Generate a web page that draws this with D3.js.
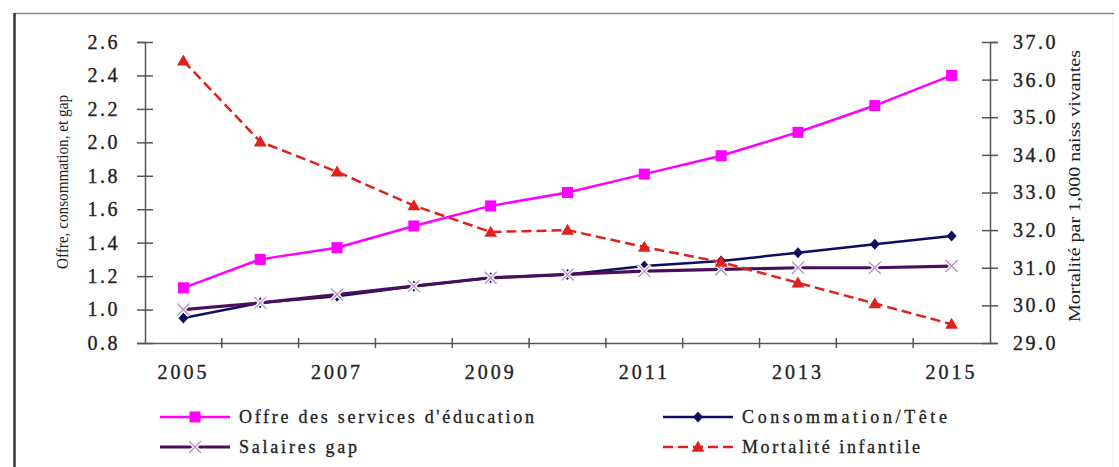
<!DOCTYPE html>
<html>
<head>
<meta charset="utf-8">
<script src="https://cdn.jsdelivr.net/npm/d3@7"></script>
<style>
  html, body { margin: 0; padding: 0; background: #fff; }
  svg { display: block; }
  text { font-family: "Liberation Serif", "Times New Roman", serif; fill: #222; }
</style>
</head>
<body>
<svg id="chart" width="1119" height="467"></svg>
<script>
// Years on the horizontal axis
const years = [2005, 2006, 2007, 2008, 2009, 2010, 2011, 2012, 2013, 2014, 2015];
const yearLabels = [2005, 2007, 2009, 2011, 2013, 2015];

// Left-axis series (index values)
const offreEducation = [1.13, 1.30, 1.37, 1.50, 1.62, 1.70, 1.81, 1.92, 2.06, 2.22, 2.40];
const consommationTete = [0.95, 1.04, 1.08, 1.14, 1.19, 1.21, 1.26, 1.29, 1.34, 1.39, 1.44];
const salairesGap = [1.00, 1.04, 1.09, 1.14, 1.19, 1.21, 1.23, 1.24, 1.25, 1.25, 1.26];

// Right-axis series (deaths per 1,000 live births)
const mortaliteInfantile = [36.5, 34.35, 33.55, 32.65, 31.95, 32.0, 31.55, 31.15, 30.6, 30.05, 29.5];

const leftTicks = [0.8, 1.0, 1.2, 1.4, 1.6, 1.8, 2.0, 2.2, 2.4, 2.6];
const rightTicks = [29, 30, 31, 32, 33, 34, 35, 36, 37];

const svg = d3.select("#chart");

// Outer frame (top and left edges)
svg.append("line").attr("x1", 14).attr("x2", 1114).attr("y1", 13.5).attr("y2", 13.5)
  .attr("stroke", "#888").attr("stroke-width", 1.5);
svg.append("line").attr("x1", 14.5).attr("x2", 14.5).attr("y1", 13).attr("y2", 467)
  .attr("stroke", "#333").attr("stroke-width", 2.5);
svg.append("line").attr("x1", 1112.5).attr("x2", 1112.5).attr("y1", 14).attr("y2", 467)
  .attr("stroke", "#eee").attr("stroke-width", 1);

const plot = { left: 145, right: 990, top: 42, bottom: 343 };

const x = d3.scaleBand().domain(years).range([plot.left, plot.right]).padding(0);
const xEdge = d3.scaleLinear().domain([0, years.length]).range([plot.left, plot.right]);
const cx = d => x(d) + x.bandwidth() / 2;

const yL = d3.scaleLinear().domain([0.8, 2.6]).range([plot.bottom, plot.top]);
const yR = d3.scaleLinear().domain([29, 37]).range([plot.bottom, plot.top]);

const axisColor = "#555";

// Left axis
const leftAxis = svg.append("g").attr("transform", `translate(${plot.left},0)`)
  .call(d3.axisLeft(yL).tickValues(leftTicks).tickSize(8).tickPadding(17).tickFormat(d3.format(".1f")));
leftAxis.selectAll(".tick line").attr("x2", -8).attr("x1", 8);
leftAxis.selectAll(".tick text").attr("x", -25);

// Right axis
const rightAxis = svg.append("g").attr("transform", `translate(${plot.right},0)`)
  .call(d3.axisRight(yR).tickValues(rightTicks).tickSize(8).tickFormat(d3.format(".1f")));
rightAxis.selectAll(".tick line").attr("x1", -8).attr("x2", 8);
rightAxis.selectAll(".tick text").attr("x", 23);

// Bottom axis: labels centred in every other year, ticks at year boundaries
const bottomAxis = svg.append("g").attr("transform", `translate(0,${plot.bottom})`)
  .call(d3.axisBottom(x).tickValues(yearLabels).tickSize(0).tickPadding(22));
bottomAxis.selectAll(".tick text").attr("dy", "0.71em");
svg.append("g").selectAll("line")
  .data(d3.range(1, years.length))
  .join("line")
  .attr("x1", i => xEdge(i)).attr("x2", i => xEdge(i))
  .attr("y1", plot.bottom - 5).attr("y2", plot.bottom + 5)
  .attr("stroke", axisColor).attr("stroke-width", 1.5);

[leftAxis, rightAxis, bottomAxis].forEach(a => {
  a.selectAll(".domain").attr("stroke", axisColor).attr("stroke-width", 1.5);
  a.selectAll(".tick line").attr("stroke", axisColor).attr("stroke-width", 1.5);
  a.selectAll(".tick text")
    .style("font-family", "'Liberation Serif', 'Times New Roman', serif")
    .style("font-size", "20px").style("letter-spacing", "2.5px")
    .attr("fill", "#222").attr("stroke", "#222").attr("stroke-width", 0.35);
});
bottomAxis.selectAll(".tick text").style("letter-spacing", "3px");

// Axis titles (both read bottom to top)
svg.append("text")
  .attr("transform", "translate(68,182) rotate(-90)")
  .attr("text-anchor", "middle")
  .attr("textLength", 174).attr("lengthAdjust", "spacingAndGlyphs")
  .style("font-size", "16px").attr("fill", "#333")
  .text("Offre, consommation, et gap");
svg.append("text")
  .attr("transform", "translate(1080,186) rotate(-90)")
  .attr("text-anchor", "middle")
  .attr("textLength", 272).attr("lengthAdjust", "spacingAndGlyphs")
  .style("font-size", "16px").attr("fill", "#333")
  .text("Mortalité par 1,000 naiss vivantes");

// Series definitions
const series = [
  { name: "Offre des services d'éducation", values: offreEducation, y: yL,
    color: "#ff00ff", width: 2.5, dash: null, marker: "square" },
  { name: "Consommation/Tête", values: consommationTete, y: yL,
    color: "#0d0d5e", width: 2.5, dash: null, marker: "diamond" },
  { name: "Salaires gap", values: salairesGap, y: yL,
    color: "#4a0f5c", width: 3.2, dash: null, marker: "cross" },
  { name: "Mortalité infantile", values: mortaliteInfantile, y: yR,
    color: "#e0201b", width: 2.5, dash: "10,5", marker: "triangle" }
];

function drawMarker(g, type, px, py, color) {
  if (type === "square") {
    g.append("rect").attr("x", px - 5.5).attr("y", py - 5.5).attr("width", 11).attr("height", 11)
      .attr("fill", color);
  } else if (type === "diamond") {
    g.append("path").attr("d", `M${px},${py - 5.5}L${px + 5},${py}L${px},${py + 5.5}L${px - 5},${py}Z`)
      .attr("fill", color);
  } else if (type === "cross") {
    g.append("path").attr("d", `M${px - 6},${py - 6}L${px + 6},${py + 6}M${px - 6},${py + 6}L${px + 6},${py - 6}`)
      .attr("stroke", "#ffffff").attr("stroke-width", 4);
    g.append("path").attr("d", `M${px - 6},${py - 6}L${px + 6},${py + 6}M${px - 6},${py + 6}L${px + 6},${py - 6}`)
      .attr("stroke", "#b58fc6").attr("stroke-width", 1.3);
  } else if (type === "triangle") {
    g.append("path").attr("d", d3.symbol(d3.symbolTriangle, 70)()).attr("transform", `translate(${px},${py + 1})`)
      .attr("fill", color);
  }
}

series.forEach(s => {
  const g = svg.append("g");
  const line = d3.line().x((d, i) => cx(years[i])).y(d => s.y(d));
  g.append("path").datum(s.values).attr("d", line)
    .attr("fill", "none").attr("stroke", s.color).attr("stroke-width", s.width)
    .attr("stroke-dasharray", s.dash).attr("stroke-linejoin", "round");
  s.values.forEach((v, i) => drawMarker(g, s.marker, cx(years[i]), s.y(v), s.color));
});

// Legend
const legendItems = [
  { s: series[0], x: 160, y: 417, len: 295 },
  { s: series[1], x: 663, y: 417, len: 205 },
  { s: series[2], x: 160, y: 447, len: 118 },
  { s: series[3], x: 663, y: 447, len: 178 }
];
legendItems.forEach(it => {
  const g = svg.append("g");
  g.append("line").attr("x1", it.x).attr("x2", it.x + 70).attr("y1", it.y).attr("y2", it.y)
    .attr("stroke", it.s.color).attr("stroke-width", it.s.width).attr("stroke-dasharray", it.s.dash);
  drawMarker(g, it.s.marker, it.x + 35, it.y, it.s.color);
  g.append("text").attr("x", it.x + 79).attr("y", it.y).attr("dy", "0.35em")
    .attr("textLength", it.len).attr("lengthAdjust", "spacing")
    .style("font-size", "18px").attr("fill", "#222").attr("stroke", "#222").attr("stroke-width", 0.3)
    .text(it.s.name);
});
</script>
</body>
</html>
